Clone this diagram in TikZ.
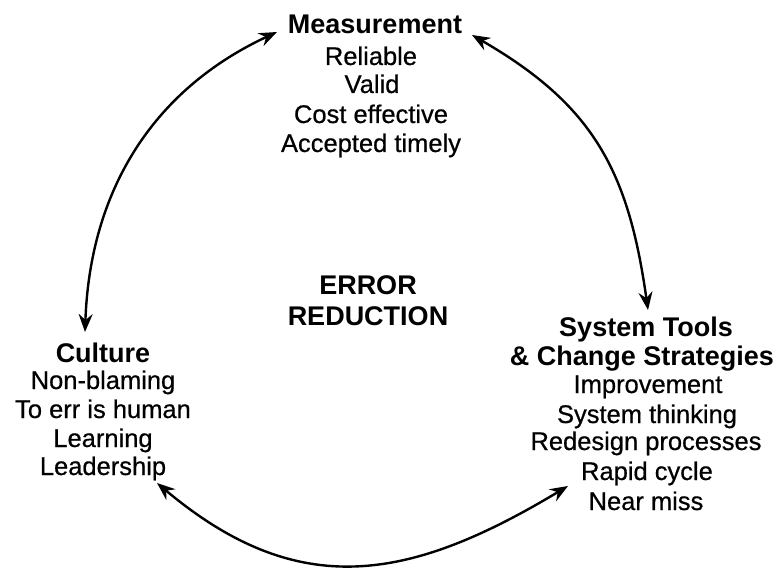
\documentclass[tikz,border=0pt]{standalone}
\usepackage{fontspec}
\setmainfont{Liberation Sans}
\newfontfamily\itemfont[FakeBold=0.6]{Liberation Sans}
\usetikzlibrary{arrows.meta}
\tikzset{
  ttl/.style={inner sep=0pt, anchor=base, font=\fontsize{27}{30}\selectfont\bfseries},
  itm/.style={inner sep=0pt, anchor=base, font=\itemfont\fontsize{25.5}{29}\selectfont},
  cyc/.style={line width=2.4pt, {Stealth[length=18pt,width=14pt,inset=6pt]}-{Stealth[length=18pt,width=14pt,inset=6pt]}}
}
\begin{document}
\begin{tikzpicture}[x=1pt,y=1pt]
\useasboundingbox (0,0) rectangle (781,568);
% Measurement
\node[ttl] (meas) at (375,534) {Measurement};
\node[itm] (m1) at (371,503) {Reliable};
\node[itm] (m2) at (372,475) {Valid};
\node[itm] (m3) at (371,445) {Cost effective};
\node[itm] (m4) at (371,416) {Accepted timely};
% Culture
\node[ttl] (cult) at (103,206) {Culture};
\node[itm] (c1) at (103,179) {Non-blaming};
\node[itm] (c2) at (103,150) {To err is human};
\node[itm] (c3) at (103,121) {Learning};
\node[itm] (c4) at (103,93) {Leadership};
% Center
\node[ttl] (err) at (368,273) {ERROR};
\node[ttl] (red) at (368,243) {REDUCTION};
% System tools
\node[ttl] (sys) at (646,231) {System Tools};
\node[ttl] (sys2) at (642,203) {\& Change Strategies};
\node[itm] (s1) at (648,175) {Improvement};
\node[itm] (s2) at (647,145) {System thinking};
\node[itm] (s3) at (646,118) {Redesign processes};
\node[itm] (s4) at (647,88) {Rapid cycle};
\node[itm] (s5) at (646,58) {Near miss};
% connector ends
\coordinate (mW) at (277,536);
\coordinate (mE) at (472,533);
\coordinate (cN) at (85,236);
\coordinate (cS) at (157,85);
\coordinate (sN) at (648,258);
\coordinate (sW) at (568,82);
% arcs
\draw[cyc] (cN) to[out=88,in=205] (mW);
\draw[cyc] (mE) to[out=-30,in=98,looseness=1.1] (sN);
\draw[cyc] (cS) to[out=-40,in=211,looseness=1.15] (sW);
\end{tikzpicture}
\end{document}
